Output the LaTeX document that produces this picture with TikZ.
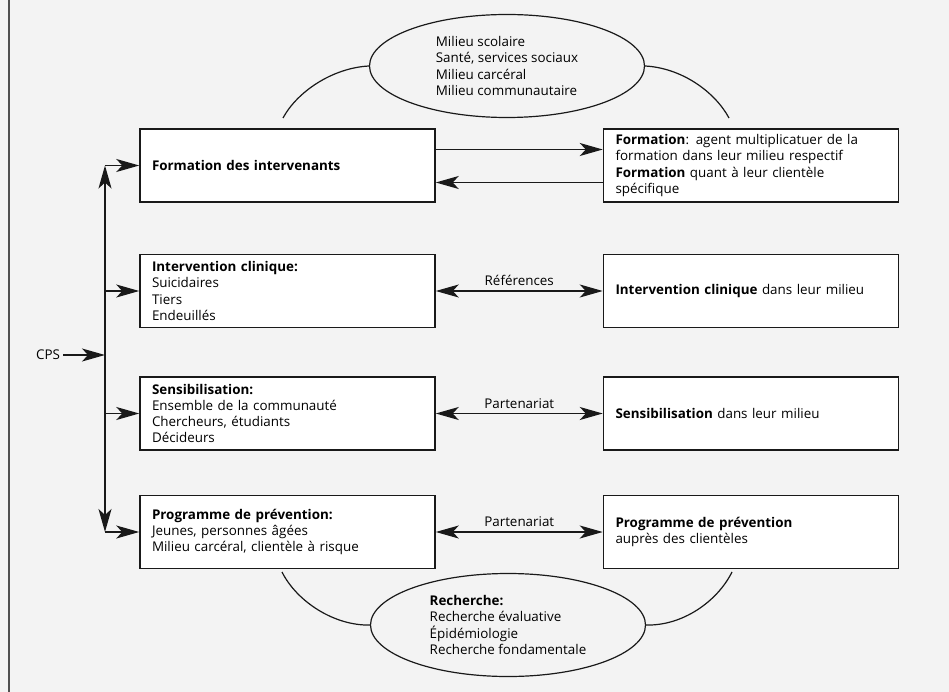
\documentclass[tikz,border=0pt]{standalone}
\usepackage{fontspec}
\setmainfont{Open Sans}
\usepackage{xcolor}
\usepackage{tikz}
\usetikzlibrary{shapes.geometric, arrows.meta, positioning, calc}
\definecolor{paper}{RGB}{243, 243, 243}
\definecolor{ink}{RGB}{25, 25, 25}
\definecolor{framegrey}{RGB}{80, 80, 80}

\begin{document}
\begin{tikzpicture}[
    x=1pt, y=-1pt,
    font=\fontsize{13.4}{16.2}\selectfont,
    block/.style={rectangle, draw=ink, fill=white, line width=1.5pt, align=left, text width=271pt, inner xsep=12pt, minimum height=73pt},
    oval/.style={ellipse, draw=ink, fill=paper, line width=1.2pt, align=left, minimum width=275pt, minimum height=103pt},
    line/.style={draw=ink, line width=1.4pt, -{Stealth[length=23pt, width=13pt, inset=6pt]}},
    dline/.style={draw=ink, line width=1.4pt, {Stealth[length=23pt, width=13pt, inset=6pt]}-{Stealth[length=23pt, width=13pt, inset=6pt]}},
    arc/.style={draw=ink, line width=1.2pt}
]

% Background and frame
\fill[paper] (0,0) rectangle (949,692);
\useasboundingbox (0,0) rectangle (949,692);
\draw[framegrey, line width=2pt] (9,0) -- (9,692);

% Nodes
\node [block] (form) at (287.5,165.5) {\textbf{Formation des intervenants}};
\node [block, below=51pt of form] (clin) {\textbf{Intervention clinique:}\\Suicidaires\\Tiers\\Endeuillés};
\node [block, below=48pt of clin] (sens) {\textbf{Sensibilisation:}\\Ensemble de la communauté\\Chercheurs, étudiants\\Décideurs};
\node [block, below=44pt of sens] (prog) {\textbf{Programme de prévention:}\\Jeunes, personnes âgées\\Milieu carcéral, clientèle à risque};

\node [block, right=167pt of form] (formR) {\textbf{Formation}: agent multiplicatuer de la\\formation dans leur milieu respectif\\\textbf{Formation} quant à leur clientèle\\spécifique};
\node [block, right=167pt of clin] (clinR) {\textbf{Intervention clinique} dans leur milieu};
\node [block, right=167pt of sens] (sensR) {\textbf{Sensibilisation} dans leur milieu};
\node [block, right=167pt of prog] (progR) {\textbf{Programme de prévention}\\auprès des clientèles};

\node [oval] (milieu) at (507,66) {Milieu scolaire\\Santé, services sociaux\\Milieu carcéral\\Milieu communautaire};
\node [oval] (rech) at (508,625) {\textbf{Recherche:}\\Recherche évaluative\\Épidémiologie\\Recherche fondamentale};

\node (cps) at (48,355) {CPS};
\coordinate (hub) at (105,355);

% Arc ends
\coordinate (tl) at (283,118);
\coordinate (tr) at (729,118);
\coordinate (bl) at (282,572);
\coordinate (br) at (732,572);

% Connectors
\path [line] (cps) -- (hub);
\path [line] (hub) -- (form.west -| hub);
\path [line] (hub) -- (prog.west -| hub);
\path [line] (form.west -| hub) -- (form.west);
\path [line] (clin.west -| hub) -- (clin.west);
\path [line] (sens.west -| hub) -- (sens.west);
\path [line] (prog.west -| hub) -- (prog.west);

\path [line] ([yshift=16pt]form.east) -- ([yshift=16pt]formR.west);
\path [line] ([yshift=-17pt]formR.west) -- ([yshift=-17pt]form.east);
\path [dline] (clin) -- node[above=1pt]{Références} (clinR);
\path [dline] (sens) -- node[above=1pt]{Partenariat} (sensR);
\path [dline] (prog) -- node[above=1pt]{Partenariat} (progR);

\path [arc] (milieu.west) .. controls (332,68) and (297,92) .. (tl);
\path [arc] (milieu.east) .. controls (682,68) and (715,92) .. (tr);
\path [arc] (bl) .. controls (297,602) and (335,626) .. (rech.west);
\path [arc] (rech.east) .. controls (682,626) and (717,602) .. (br);

\end{tikzpicture}
\end{document}
